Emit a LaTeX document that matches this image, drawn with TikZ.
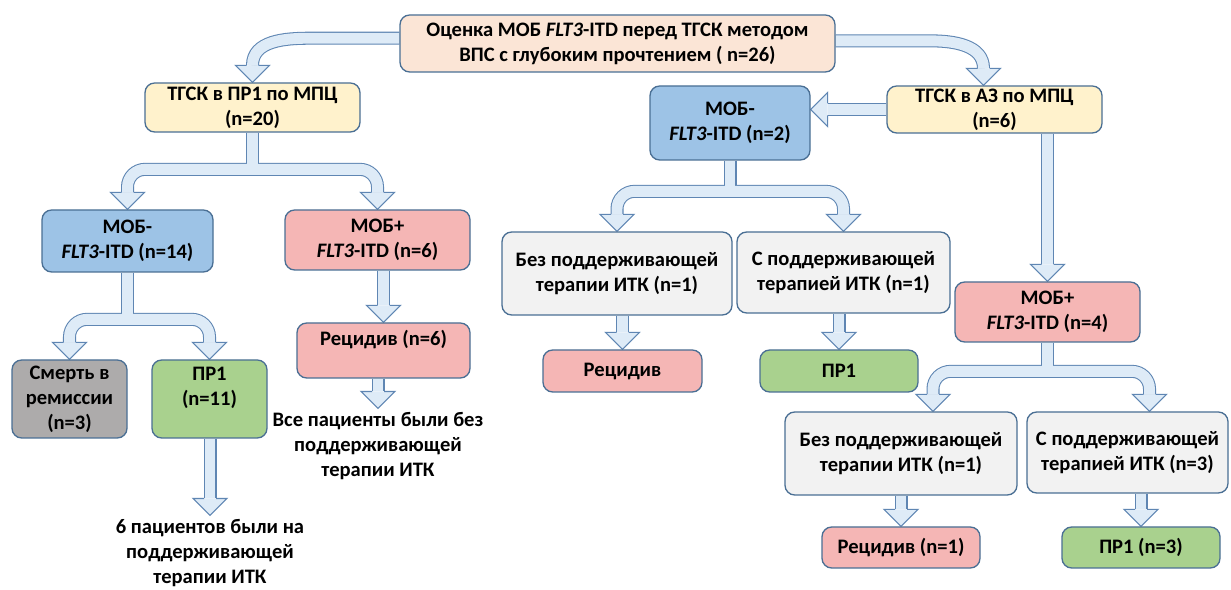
\documentclass[tikz,border=0pt]{standalone}
\usepackage{fontspec}
\setmainfont{Carlito}
\usetikzlibrary{calc}

\definecolor{peach}{HTML}{FBE5D6}
\definecolor{pale}{HTML}{FFF2CC}
\definecolor{mobneg}{HTML}{9DC3E6}
\definecolor{mobpos}{HTML}{F5B6B5}
\definecolor{remis}{HTML}{A9D18E}
\definecolor{death}{HTML}{ADABAB}
\definecolor{light}{HTML}{F2F2F2}
\definecolor{boxline}{HTML}{4A6F94}
\definecolor{arrline}{HTML}{5F86B3}
\definecolor{arrfill}{HTML}{DEEBF7}

\newcommand\flfont{\fontsize{11.7}{14.2}\selectfont\bfseries}

\pgfdeclarelayer{bg}
\pgfsetlayers{bg,main}

\tikzset{
	box/.style={draw=boxline, line width=0.75pt, rounded corners=5.5pt, inner sep=0pt, align=center, font=\flfont},
	size/.style 2 args={minimum width=#1*0.02cm, minimum height=#2*0.02cm},
	note/.style={inner sep=2pt, align=center, font=\flfont},
	shaftout/.style={draw=arrline, line width=7.4pt},
	shaftin/.style={draw=arrfill, line width=6.2pt},
	bhead/.pic={
		\fill[arrfill] (0,0) -- (-17,17) -- (-17,-17) -- cycle;
		\draw[arrline, line width=0.6pt, line join=miter] (-17,6) -- (-17,17) -- (0,0) -- (-17,-17) -- (-17,-6);
	}
}

% straight block arrow down from #1 to #2
\newcommand\vblk[2]{
	\draw[shaftout] (#2.north |- #1.south) -- ($(#2.north)+(0,17)$);
	\draw[shaftin] (#2.north |- #1.south) -- ($(#2.north)+(0,17)$);
	\pic[rotate=-90] at (#2.north) {bhead};
}

% forked block arrow from #1 to the tips #2 and #3
\newcommand\fork[3]{
	\coordinate (hl) at ($(#2)+(0,17)$);
	\coordinate (hr) at ($(#3)+(0,17)$);
	\coordinate (bl) at ($(#2)+(0,40)$);
	\coordinate (br) at ($(#3)+(0,40)$);
	\draw[shaftout] (#1.south) -- (#1.south |- bl);
	\draw[shaftout, rounded corners=10pt] (hl) -- (bl) -- (br) -- (hr);
	\draw[shaftin] (#1.south) -- (#1.south |- bl);
	\draw[shaftin, rounded corners=10pt] (hl) -- (bl) -- (br) -- (hr);
	\pic[rotate=-90] at (#2) {bhead};
	\pic[rotate=-90] at (#3) {bhead};
}

\begin{document}
\begin{tikzpicture}[x=0.02cm, y=0.02cm]
	%%%%% START %%%%%
	\useasboundingbox (0,0) rectangle (1231,-590);

	\node[box, fill=peach, size={435}{57}] (top) at (617.5,-43.5) {Оценка МОБ \textit{FLT3}-ITD перед ТГСК методом\\ВПС с глубоким прочтением ( n=26)};

	% left part
	\node[box, fill=pale, size={215}{49}] (p1) at (252.5,-107.5) {ТГСК в ПР1 по МПЦ\\(n=20)};
	\node[box, fill=mobneg, size={171}{62}] (m14) at (127.5,-241) {МОБ-\\\textit{FLT3}-ITD (n=14)};
	\node[box, fill=mobpos, size={185}{60}] (m6) at (377.5,-240) {МОБ+\\\textit{FLT3}-ITD (n=6)};
	\node[box, fill=mobpos, size={173}{55}] (r6) at (383.5,-350.5) {Рецидив (n=6)\\~};
	\node[note] (t6) at (378,-446) {Все пациенты были без\\поддерживающей\\терапии ИТК};
	\node[box, fill=death, size={115}{78}] (d3) at (69.5,-399) {Смерть в\\ремиссии\\(n=3)};
	\node[box, fill=remis, size={115}{78}] (c11) at (209.5,-399) {ПР1\\(n=11)\\~};
	\node[note] (t11) at (210,-553) {6 пациентов были на\\поддерживающей\\терапии ИТК};

	% right part
	\node[box, fill=pale, size={215}{47}] (az) at (994.5,-109.5) {ТГСК в АЗ по МПЦ\\(n=6)};
	\node[box, fill=mobneg, size={160}{74}] (m2) at (730,-123) {МОБ-\\\textit{FLT3}-ITD (n=2)};
	\node[box, fill=light, size={230}{83}] (b1) at (617,-273.5) {Без поддерживающей\\терапии ИТК (n=1)};
	\node[box, fill=light, size={213}{81}] (s1) at (843.5,-272.5) {С поддерживающей\\терапией ИТК (n=1)};
	\node[box, fill=mobpos, size={159}{42}] (r1) at (622.5,-371) {Рецидив};
	\node[box, fill=remis, size={158}{42}] (q1) at (839,-371) {ПР1};
	\node[box, fill=mobpos, size={185}{60}] (m4) at (1047.5,-312) {МОБ+\\\textit{FLT3}-ITD (n=4)};
	\node[box, fill=light, size={232}{83}] (b2) at (901,-453.5) {Без поддерживающей\\терапии ИТК (n=1)};
	\node[box, fill=light, size={201}{81}] (s2) at (1127.5,-452.5) {С поддерживающей\\терапией ИТК (n=3)};
	\node[box, fill=mobpos, size={158}{41}] (r2) at (901,-547.5) {Рецидив (n=1)};
	\node[box, fill=remis, size={158}{41}] (q2) at (1141,-547.5) {ПР1 (n=3)};

	\coordinate (tb2) at ($(b2.north)+(32,0)$);
	\coordinate (ts2) at ($(s2.north)+(22,0)$);
	\coordinate (taz) at ($(az.north)+(-11,0)$);

	\begin{pgfonlayer}{bg}
		\fill[white] (0,0) rectangle (1231,-590);

		% arrows out of the top box
		\draw[shaftout] ([yshift=3pt]top.west) -- ++(-90,0) to[out=180, in=90] ($(p1.north)+(0,17)$);
		\draw[shaftin] ([yshift=3pt]top.west) -- ++(-90,0) to[out=180, in=90] ($(p1.north)+(0,17)$);
		\pic[rotate=-90] at (p1.north) {bhead};
		\draw[shaftout] ([yshift=1.5pt]top.east) -- ++(95,0) to[out=0, in=90] ($(taz)+(0,17)$);
		\draw[shaftin] ([yshift=1.5pt]top.east) -- ++(95,0) to[out=0, in=90] ($(taz)+(0,17)$);
		\pic[rotate=-90] at (taz) {bhead};

		\fork{p1}{m14.north}{m6.north}
		\fork{m14}{d3.north}{c11.north}
		\vblk{m6}{r6}
		\vblk{r6}{t6}
		\vblk{c11}{t11}

		\draw[shaftout] (az.west) -- ($(az.west -| m2.east)+(17,0)$);
		\draw[shaftin] (az.west) -- ($(az.west -| m2.east)+(17,0)$);
		\pic[rotate=180] at (az.west -| m2.east) {bhead};

		\fork{m2}{b1.north}{s1.north}
		\vblk{b1}{r1}
		\vblk{s1}{q1}

		\draw[shaftout] (m4.north |- az.south) -- ($(m4.north)+(0,17)$);
		\draw[shaftin] (m4.north |- az.south) -- ($(m4.north)+(0,17)$);
		\pic[rotate=-90] at (m4.north) {bhead};

		\fork{m4}{tb2}{ts2}
		\vblk{b2}{r2}
		\vblk{s2}{q2}
	\end{pgfonlayer}
	%%%%% END %%%%%
\end{tikzpicture}
\end{document}
